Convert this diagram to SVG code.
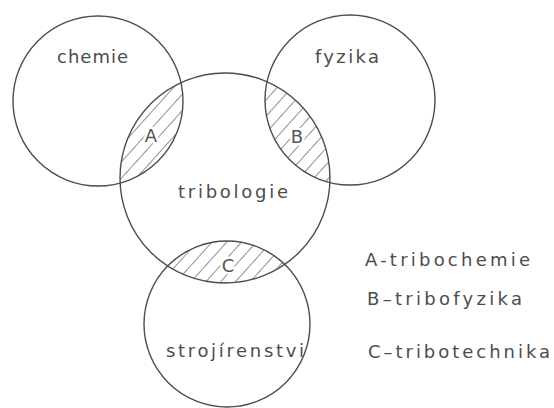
<svg xmlns="http://www.w3.org/2000/svg" width="554" height="408" viewBox="0 0 554 408">
  <style>
    .c { fill: none; stroke: #4d4d4d; stroke-width: 1.4; }
    .t { font-family: "DejaVu Sans", "Liberation Sans", sans-serif; font-size: 18px; fill: #4d4d4d; }
    .l { font-family: "DejaVu Sans", "Liberation Sans", sans-serif; font-size: 18px; fill: #555; text-anchor: middle; stroke: #fff; stroke-width: 5; paint-order: stroke; stroke-linejoin: round; }
  </style>
  <defs>
    <pattern id="hatch" patternUnits="userSpaceOnUse" width="11" height="11" patternTransform="rotate(42)">
      <line x1="0" y1="0" x2="0" y2="11" stroke="#555" stroke-width="1.3"/>
    </pattern>
    <clipPath id="clipChem"><circle cx="98" cy="101" r="85"/></clipPath>
    <clipPath id="clipFyz"><circle cx="350" cy="100" r="85"/></clipPath>
    <clipPath id="clipStroj"><circle cx="227" cy="324" r="83"/></clipPath>
  </defs>
  <rect width="554" height="408" fill="#ffffff"/>

  <g id="hatching">
    <circle cx="225" cy="178" r="105" fill="url(#hatch)" clip-path="url(#clipChem)"/>
    <circle cx="225" cy="178" r="105" fill="url(#hatch)" clip-path="url(#clipFyz)"/>
    <circle cx="225" cy="178" r="105" fill="url(#hatch)" clip-path="url(#clipStroj)"/>
  </g>

  <g id="chemie">
    <circle class="c" cx="98" cy="101" r="85"/>
    <text class="t" x="57" y="63" textLength="71" lengthAdjust="spacing">chemie</text>
  </g>
  <g id="fyzika">
    <circle class="c" cx="350" cy="100" r="85"/>
    <text class="t" x="315" y="63" textLength="64" lengthAdjust="spacing">fyzika</text>
  </g>
  <g id="tribologie">
    <circle class="c" cx="225" cy="178" r="105"/>
    <text class="t" x="178" y="198" textLength="110" lengthAdjust="spacing">tribologie</text>
  </g>
  <g id="strojirenstvi">
    <circle class="c" cx="227" cy="324" r="83"/>
    <text class="t" x="166" y="357" textLength="138" lengthAdjust="spacing">strojírenstvi</text>
  </g>

  <g id="labels">
    <text class="l" x="151" y="142">A</text>
    <text class="l" x="297" y="143">B</text>
    <text class="l" x="228" y="272">C</text>
  </g>

  <g id="connectors"></g>

  <g id="legend">
    <text class="t" x="365" y="266" textLength="165" lengthAdjust="spacing">A-tribochemie</text>
    <text class="t" x="367" y="305" textLength="155" lengthAdjust="spacing">B–tribofyzika</text>
    <text class="t" x="368" y="358" textLength="182" lengthAdjust="spacing">C–tribotechnika</text>
  </g>
</svg>
